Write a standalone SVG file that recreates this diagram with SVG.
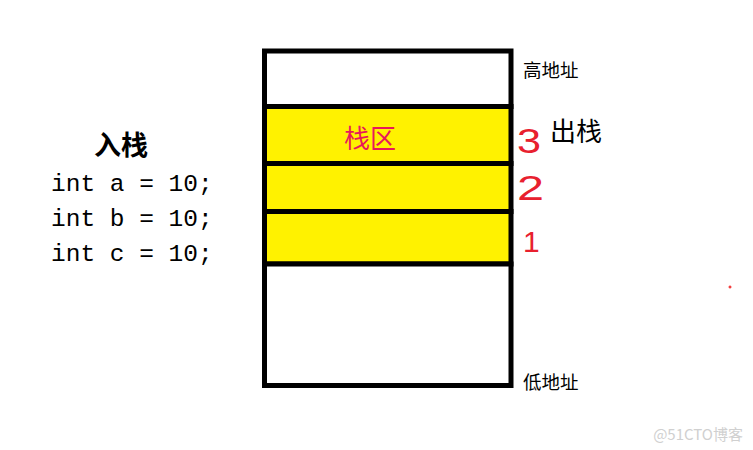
<svg xmlns="http://www.w3.org/2000/svg" width="753" height="450" viewBox="0 0 753 450">
<style>
.cell{stroke:#000;stroke-width:5}
.y{fill:#FFF200}
.w{fill:#fff}
.cjk{font-family:"Noto Sans CJK SC","Noto Sans CJK JP",sans-serif;fill:#000}
.code{font-family:"Liberation Mono","DejaVu Sans Mono",monospace;font-size:24.5px;fill:#000}
.num{font-family:"Liberation Sans",sans-serif;font-size:36px;fill:#E8202E}
</style>
<rect width="753" height="450" fill="#fff"/>
<g id="stack">
<rect class="cell w" x="264.5" y="51" width="246.5" height="55.5"/>
<rect class="cell y" x="264.5" y="106.5" width="246.5" height="57"/>
<rect class="cell y" x="264.5" y="163.5" width="246.5" height="48"/>
<rect class="cell y" x="264.5" y="211.5" width="246.5" height="52.5"/>
<rect class="cell w" x="264.5" y="264" width="246.5" height="121.5"/>
<text x="370" y="148" text-anchor="middle" class="cjk" style="font-size:26px;fill:#E8185A">栈区</text>
</g>
<g id="labels">
<text x="523" y="77" class="cjk" style="font-size:18.5px">高地址</text>
<text x="523" y="389" class="cjk" style="font-size:18.5px">低地址</text>
<text x="550" y="141" class="cjk" style="font-size:26px">出栈</text>
<text x="94" y="155" class="cjk" style="font-size:27px;font-weight:bold">入栈</text>
</g>
<g id="code">
<text x="51" y="191" class="code">int a = 10;</text>
<text x="51" y="226" class="code">int b = 10;</text>
<text x="51" y="261" class="code">int c = 10;</text>
</g>
<g id="numbers">
<text x="517" y="153" class="num" transform="translate(517 153) scale(1.2 1) translate(-517 -153)">3</text>
<text x="517" y="200" class="num" transform="translate(517 200) scale(1.35 1) translate(-517 -200)">2</text>
<text x="523" y="252" class="num" style="font-size:30px">1</text>
</g>
<g id="mark">
<path d="M730 285.5v3M728.5 287h3" stroke="#E00" stroke-width="1"/>
</g>
<text x="743" y="440" text-anchor="end" style="font-family:'Noto Sans CJK SC',sans-serif;font-size:15px;fill:#D0D0D0">@51CTO博客</text>
</svg>
